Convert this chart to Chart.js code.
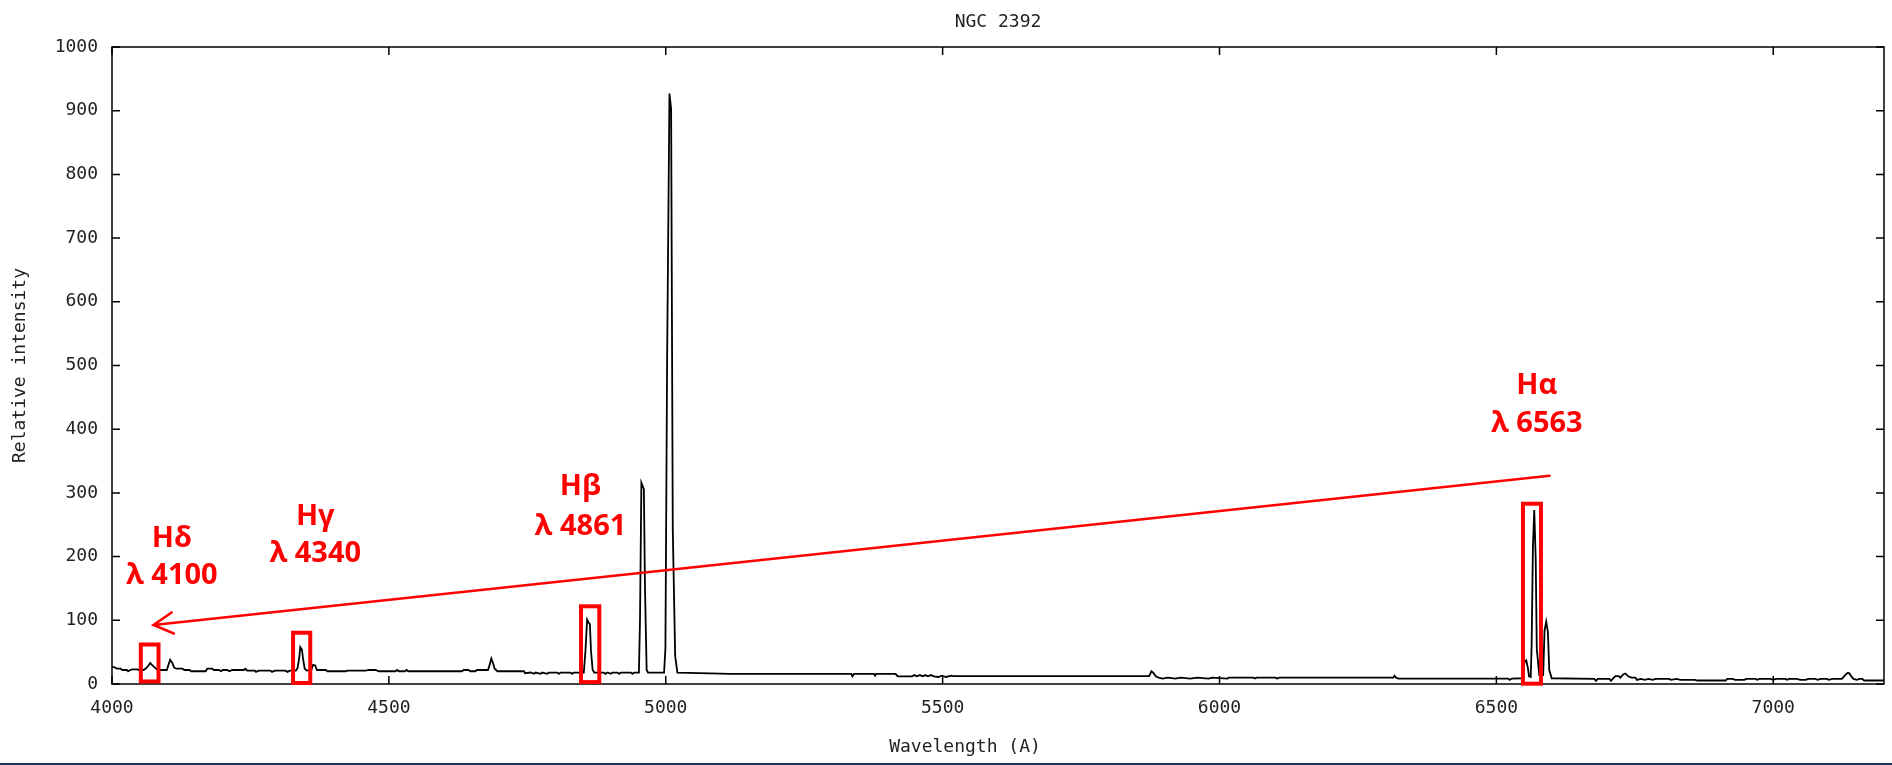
<!DOCTYPE html>
<html>
<head>
<meta charset="utf-8">
<script src="https://cdn.jsdelivr.net/npm/chart.js@4.4.1/dist/chart.umd.min.js"></script>
<style>
html,body{margin:0;padding:0;background:#fff;}
#wrap{width:1892px;height:765px;position:relative;}
</style>
</head>
<body>
<div id="wrap"><canvas id="c" width="1892" height="765"></canvas></div>
<script>
// ---- data (wavelength in Å, relative intensity) ----
const wavelength = [
4000,4005,4009,4015,4019,4027,4029,4033,4037,4045,4049,4057,4062,4066,4069,4072,4077,4081,4087,4099,
4102,4105,4109,4112,4116,4127,4131,4140,4143,4169,4172,4181,4184,4193,4197,4200,4208,4212,4217,4238,
4241,4244,4258,4260,4265,4286,4289,4294,4313,4317,4321,4332,4335,4338,4340,4343,4345,4348,4352,4360,
4363,4367,4370,4386,4389,4422,4425,4458,4464,4476,4482,4512,4515,4518,4529,4532,4535,4632,4635,4644,
4647,4656,4659,4679,4682,4685,4688,4691,4696,4744,4746,4756,4762,4765,4774,4777,4786,4789,4804,4807,
4810,4828,4831,4834,4852,4855,4858,4861,4863,4865,4868,4871,4888,4891,4895,4901,4904,4913,4916,4919,
4937,4940,4943,4951.5,4953.5,4956,4960.5,4962.5,4965.5,4968,4997,4999.4,5002.5,5006.7,5009.7,5012.7,5017,5021,5060,5117,
5335,5337,5340,5376,5378,5380,5415,5419,5445,5449,5453,5459,5464,5469,5473,5479,5484,5492,5499,5506,
5516,5519,5873,5877,5881,5885,5890,5897,5907,5920,5930,5947,5960,5980,5987,6014,6017,6061,6064,6067,
6101,6104,6108,6314,6316,6319,6323,6521,6524,6528,6547,6551,6554,6557,6559,6562,6563.6,6566,6568.4,6571,
6573,6577.5,6584.5,6587,6590,6593,6595.5,6600,6677,6680,6683,6704,6707,6710,6715,6721,6724,6729,6733,6738,
6744,6751,6754,6761,6768,6775,6782,6788,6812,6815,6826,6832,6859,6863,6914,6917,6927,6931,6948,6951,
6968,6971,6975,6995,7000,7005,7022,7025,7029,7042,7049,7059,7063,7076,7080,7086,7097,7100,7107,7124,
7129,7134,7137,7141,7145,7151,7156,7161,7164,7200
];
const intensity = [
27,26,24,24,22,22,20,22,23,23,22,22,25,29,33,30,26,23,22,22,
30,38,33,26,24,24,22,22,20,20,24,24,22,22,20,22,22,20,22,22,
24,21,21,19,21,21,19,21,21,19,21,21,25,40,58,54,40,24,21,22,
30,29,22,22,20,20,21,21,22,22,20,20,22,20,20,22,20,20,22,22,
20,20,22,22,30,40,33,24,20,20,17,18,16,18,16,18,16,18,18,16,
18,18,16,18,18,52,101,96,94,52,22,18,18,16,18,16,18,18,16,18,
18,16,18,18,100,316,306,151,22,18,18,56,513,927,903,242,44,18,17,16,
16,12,16,16,13,16,16,12,12,14,12,14,12,14,12,14,12,11,13,11,
13,12.5,12.5,20,17,12,10,8.5,10,8.5,10,8.5,10,8.5,10,8.5,10,10,8.5,10,
10,8.5,10,10,13,10,8.5,8.5,6.5,8.5,9,35,37,25,12,11,58,215,273,197,
55,14,14,84,98,82,22,9,8,5,8,8,5,8,12.5,12.5,10,15,16.5,12,
10,10,6.5,8,6.5,8,6.5,8,8,6.5,8,6.5,6.5,5.5,5.5,8,8,6.5,6.5,8,
8,6.5,8,8,6.5,8,8,6.5,8,8,6.5,6.5,8,8,6.5,8,8,6.5,8,8,
13,17.5,17,12,8,6.5,8,8,5.5,5.5
];
const xTickValues = [4000, 4500, 5000, 5500, 6000, 6500, 7000];
const yTickValues = [0, 100, 200, 300, 400, 500, 600, 700, 800, 900, 1000];
const chartTitle = 'NGC 2392';
const xAxisTitle = 'Wavelength (A)';
const yAxisTitle = 'Relative intensity';

// annotation content (hydrogen Balmer lines) and their anchors in data units
const lineNames = ['H\u03B4', 'H\u03B3', 'H\u03B2', 'H\u03B1'];
const lineWavelengthLabels = ['\u03BB 4100', '\u03BB 4340', '\u03BB 4861', '\u03BB 6563'];
const labelAnchorX = [4108, 4367, 4846, 6573];
const nameBaselineY = [215, 250, 297, 456];
const waveBaselineY = [157, 192, 234, 396];
const boxFromX = [4052, 4327, 4847, 6548];
const boxToX = [4084, 4358, 4880, 6580.5];
const boxLowY = [4, 1.6, 3, 0.5];
const boxHighY = [62, 80.5, 122, 283];
const arrowTail = [6596, 327];
const arrowHead = [4075, 92.6];

const mono = 'DejaVu Sans Mono';
const RED = '#ff0000';

const overlay = {
  id: 'overlay',
  afterDraw(chart) {
    const ctx = chart.ctx, ca = chart.chartArea;
    const xs = chart.scales.x, ys = chart.scales.y;
    ctx.save();
    // frame with gnuplot-like inward ticks
    ctx.strokeStyle = '#000';
    ctx.lineWidth = 1.5;
    ctx.strokeRect(ca.left, ca.top, ca.right - ca.left, ca.bottom - ca.top);
    ctx.beginPath();
    xs.ticks.forEach(t => {
      const p = xs.getPixelForValue(t.value);
      ctx.moveTo(p, ca.bottom); ctx.lineTo(p, ca.bottom - 8);
      ctx.moveTo(p, ca.top); ctx.lineTo(p, ca.top + 8);
    });
    ys.ticks.forEach(t => {
      const p = ys.getPixelForValue(t.value);
      ctx.moveTo(ca.left, p); ctx.lineTo(ca.left + 8, p);
      ctx.moveTo(ca.right, p); ctx.lineTo(ca.right - 8, p);
    });
    ctx.stroke();

    // x axis title
    ctx.fillStyle = '#222';
    ctx.font = '18px "' + mono + '"';
    ctx.textAlign = 'center';
    ctx.textBaseline = 'middle';
    ctx.fillText(xAxisTitle, (ca.left + ca.right) / 2 - 33, 747);

    // red boxes
    ctx.strokeStyle = RED;
    ctx.lineWidth = 4;
    for (let i = 0; i < boxFromX.length; i++) {
      const x0 = xs.getPixelForValue(boxFromX[i]);
      const x1 = xs.getPixelForValue(boxToX[i]);
      const y0 = ys.getPixelForValue(boxHighY[i]);
      const y1 = ys.getPixelForValue(boxLowY[i]);
      ctx.strokeRect(x0, y0, x1 - x0, y1 - y0);
    }
    // arrow
    const tx = xs.getPixelForValue(arrowTail[0]), ty = ys.getPixelForValue(arrowTail[1]);
    const hx = xs.getPixelForValue(arrowHead[0]), hy = ys.getPixelForValue(arrowHead[1]);
    ctx.lineWidth = 2.6;
    ctx.lineCap = 'round';
    ctx.beginPath();
    ctx.moveTo(tx, ty); ctx.lineTo(hx, hy);
    const ang = Math.atan2(ty - hy, tx - hx);
    const L = 22, spread = 0.5;
    ctx.moveTo(hx + L * Math.cos(ang - spread), hy + L * Math.sin(ang - spread));
    ctx.lineTo(hx, hy);
    ctx.lineTo(hx + L * Math.cos(ang + spread), hy + L * Math.sin(ang + spread));
    ctx.stroke();

    // labels
    ctx.fillStyle = RED;
    ctx.font = 'bold 29px "Open Sans"';
    ctx.textAlign = 'center';
    ctx.textBaseline = 'alphabetic';
    for (let i = 0; i < lineNames.length; i++) {
      const px = xs.getPixelForValue(labelAnchorX[i]);
      ctx.fillText(lineNames[i], px, ys.getPixelForValue(nameBaselineY[i]));
      ctx.fillText(lineWavelengthLabels[i], px, ys.getPixelForValue(waveBaselineY[i]));
    }
    ctx.restore();

    // slide rule at the very bottom
    ctx.save();
    ctx.fillStyle = '#1c2f5e';
    ctx.fillRect(0, 763, chart.width, 2);
    ctx.restore();
  }
};

new Chart(document.getElementById('c'), {
  type: 'line',
  data: {
    datasets: [{
      label: 'NGC 2392',
      data: wavelength.map((w, i) => ({ x: w, y: intensity[i] })),
      borderColor: '#000',
      borderWidth: 1.8,
      pointRadius: 0,
      tension: 0,
      fill: false
    }]
  },
  options: {
    responsive: false,
    animation: false,
    devicePixelRatio: 1,
    layout: { padding: { left: 0, right: 8, top: 0, bottom: 0 } },
    plugins: {
      legend: { display: false },
      tooltip: { enabled: false },
      title: {
        display: true,
        text: chartTitle,
        fullSize: false,
        color: '#222',
        font: { family: mono, size: 18, weight: 'normal' },
        padding: { top: 12, bottom: 13.4 }
      }
    },
    scales: {
      x: {
        type: 'linear',
        min: 4000,
        max: 7200,
        afterBuildTicks: s => { s.ticks = xTickValues.map(v => ({ value: v })); },
        afterFit: s => { s.height = 81; },
        grid: { display: false, drawTicks: false },
        border: { display: false },
        ticks: {
          autoSkip: false, maxRotation: 0, padding: 14, color: '#222',
          font: { family: mono, size: 18 },
          callback: v => String(v)
        }
      },
      y: {
        type: 'linear',
        min: 0,
        max: 1000,
        afterBuildTicks: s => { s.ticks = yTickValues.map(v => ({ value: v })); },
        afterFit: s => { s.width = 112; },
        grid: { display: false, drawTicks: false },
        border: { display: false },
        ticks: {
          padding: 14, color: '#222',
          font: { family: mono, size: 18 },
          callback: v => String(v)
        },
        title: {
          display: true, text: yAxisTitle, color: '#222',
          font: { family: mono, size: 18, weight: 'normal' },
          padding: { top: 10, bottom: 0 }
        }
      }
    }
  },
  plugins: [overlay]
});
</script>
</body>
</html>
